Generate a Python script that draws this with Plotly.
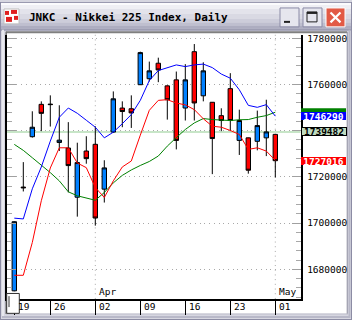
import plotly.graph_objects as go

# ---------------- data ----------------
DATES = ["2007-03-19", "2007-03-20", "2007-03-22", "2007-03-23", "2007-03-26",
         "2007-03-27", "2007-03-28", "2007-03-29", "2007-03-30", "2007-04-02",
         "2007-04-03", "2007-04-04", "2007-04-05", "2007-04-06", "2007-04-09",
         "2007-04-10", "2007-04-11", "2007-04-12", "2007-04-13", "2007-04-16",
         "2007-04-17", "2007-04-18", "2007-04-19", "2007-04-20", "2007-04-23",
         "2007-04-24", "2007-04-25", "2007-04-26", "2007-04-27", "2007-05-01"]

OPEN = [1670700, 1715600, 1737400, 1751400, 1751500, 1734900, 1732500, 1711200, 1731200, 1734100,
        1714700, 1739400, 1749800, 1749500, 1759900, 1762500, 1769200, 1759400, 1762000, 1749800,
        1774200, 1755100, 1752300, 1746500, 1758200, 1735800, 1736900, 1735400, 1736900, 1738400]
HIGH = [1700800, 1726400, 1748400, 1752700, 1755300, 1751000, 1743700, 1734800, 1737600, 1741900,
        1727200, 1757000, 1752700, 1755300, 1774200, 1769900, 1771600, 1759600, 1765600, 1768800,
        1777500, 1769600, 1752400, 1749700, 1764900, 1749100, 1737000, 1748700, 1753400, 1738500]
LOW = [1670500, 1713700, 1737000, 1739800, 1741800, 1731200, 1713300, 1702800, 1725700, 1698900,
       1708900, 1739100, 1741500, 1741200, 1759800, 1761300, 1761000, 1744800, 1731900, 1744400,
       1744400, 1752700, 1721200, 1739800, 1739800, 1729500, 1721400, 1731500, 1729000, 1719700]
CLOSE = [1700600, 1715300, 1741500, 1747500, 1751300, 1735900, 1724900, 1726200, 1727900, 1702200,
         1723900, 1753800, 1748300, 1747700, 1773800, 1765900, 1766300, 1753400, 1735800, 1762000,
         1752000, 1765900, 1736600, 1744400, 1744400, 1744400, 1722900, 1742200, 1739482, 1727016]

BLUE_LINE = [1702150, 1701810, 1714840, 1724300, 1735490, 1745810, 1749810, 1747530, 1744520, 1741510,
             1736900, 1739360, 1743010, 1746970, 1753120, 1761720, 1766020, 1767100, 1768470, 1767740,
             1768470, 1768820, 1767310, 1764520, 1762710, 1757720, 1750970, 1750110, 1751270, 1746290]
RED_LINE = [1677420, 1677420, 1691610, 1709680, 1723870, 1732600, 1732600, 1726020, 1724000, 1715400,
            1711100, 1718280, 1724300, 1726880, 1738070, 1748820, 1753120, 1753420, 1751960, 1751180,
            1749120, 1745160, 1741940, 1741510, 1740090, 1738370, 1731910, 1732600, 1731180, 1727180]
GREEN_LINE = [1734070, 1731480, 1728300, 1725160, 1721850, 1718280, 1713550, 1711830, 1710970, 1709890,
              1713250, 1717420, 1720650, 1723010, 1724950, 1726670, 1729030, 1733330, 1736990, 1740520,
              1743360, 1745250, 1744820, 1744600, 1744390, 1744730, 1744820, 1745810, 1746540, 1748000]

PREV_CLOSE = 1739482

WEEK_TICKS = ["2007-03-19", "2007-03-26", "2007-04-02", "2007-04-09", "2007-04-16", "2007-04-23", "2007-05-01"]
WEEK_LABELS = ["19", "26", "02", "09", "16", "23", "01"]
MONTH_TICKS = ["2007-04-02", "2007-05-01"]
MONTH_LABELS = ["Apr", "May"]

TITLE = "JNKC - Nikkei 225 Index, Daily"
Y_TICKS = [1680000, 1700000, 1720000, 1740000, 1760000, 1780000]
Y_TICK_TEXT = ["1680000", "1700000", "1720000", "", "1760000", "1780000"]  # 1740000 is covered by the value boxes

# ---------------- geometry (pixels of the 352x320 window) ----------------
W, H = 352, 320
PLOT_L, PLOT_R, PLOT_T, PLOT_B = 7, 300.5, 33, 298.8
PX_PER_DAY = 9.0
FIRST_X = 14.3
VAL_PER_PX = 430.1
Y_TOP = 1781505

def X(px):
    return px / W

def Y(py):
    return 1 - py / H

x_lo = (PLOT_L - FIRST_X) / PX_PER_DAY
x_hi = (PLOT_R - FIRST_X) / PX_PER_DAY
y_hi = Y_TOP
y_lo = Y_TOP - (PLOT_B - PLOT_T) * VAL_PER_PX

MONO = "DejaVu Sans Mono"

fig = go.Figure()

fig.add_trace(go.Scatter(x=DATES, y=GREEN_LINE, mode="lines",
                         line=dict(color="#008000", width=1), hoverinfo="skip"))
fig.add_trace(go.Scatter(x=DATES, y=RED_LINE, mode="lines",
                         line=dict(color="#ff0000", width=1), hoverinfo="skip"))
fig.add_trace(go.Scatter(x=DATES, y=BLUE_LINE, mode="lines",
                         line=dict(color="#0000ff", width=1), hoverinfo="skip"))

fig.add_trace(go.Candlestick(
    x=DATES, open=OPEN, high=HIGH, low=LOW, close=CLOSE,
    increasing=dict(fillcolor="#0080ff", line=dict(color="#000000", width=1)),
    decreasing=dict(fillcolor="#ff0000", line=dict(color="#000000", width=1)),
    whiskerwidth=0,
))

shapes = []

def rect(x0, y0, x1, y1, fill, line=None, lw=0, layer="below"):
    shapes.append(dict(type="rect", xref="paper", yref="paper",
                       x0=X(x0), x1=X(x1), y0=Y(y1), y1=Y(y0),
                       fillcolor=fill, line=dict(color=line or fill, width=lw),
                       layer=layer))

def hline(x0, x1, y, color, lw=1, layer="below"):
    shapes.append(dict(type="line", xref="paper", yref="paper",
                       x0=X(x0), x1=X(x1), y0=Y(y), y1=Y(y),
                       line=dict(color=color, width=lw), layer=layer))

def vline(x, y0, y1, color, lw=1, layer="below"):
    shapes.append(dict(type="line", xref="paper", yref="paper",
                       x0=X(x), x1=X(x), y0=Y(y0), y1=Y(y1),
                       line=dict(color=color, width=lw), layer=layer))

# window frame
rect(0, 0, W, H, "#d6d6e0")
# title bar gradient
stripes = [(0, 1, "#9a9ab0"), (1, 3, "#fbfbfd"), (3, 7, "#efeff4"), (7, 12, "#e3e3eb"),
           (12, 17, "#d9d9e3"), (17, 21, "#cdcdda"), (21, 24, "#bfbfcf"), (24, 27, "#adadc0"),
           (27, 29, "#9d9db2")]
for a, b, c in stripes:
    rect(0, a, W, b, c)
# white client area
rect(7, 30, 347, 313.5, "#ffffff")
hline(6, 347, 30.5, "#808080", 2)
vline(6.2, 30, 314, "#707070", 1.5)
vline(347.2, 30, 314, "#9090a0", 1)
hline(6, 348, 314, "#c0c0cc", 1)
vline(0.5, 0, H, "#8c8ca4", 1)
vline(351.5, 0, H, "#8c8ca4", 1)
hline(0, W, 319.5, "#8c8ca4", 1)
vline(3, 28, 318, "#e8e8ee", 2)
vline(349.5, 28, 318, "#b8b8c8", 2)
hline(2, 350, 317, "#b8b8c8", 2)

# title bar icon
rect(4, 7, 19, 22, "#ffffff", "#c0c0c0", 1)
rect(5, 9, 9, 13, "#e02020")
rect(11, 8, 17, 12, "#e02020")
rect(6, 15, 12, 20, "#e02020")
rect(14, 14, 18, 18, "#e02020")

# title buttons
rect(280, 6, 299, 25, "#e6e6ee", "#8a8aa6", 1)
rect(284, 19, 290, 21, "#202020")
rect(303, 6, 322, 25, "#e6e6ee", "#8a8aa6", 1)
rect(307, 10, 317, 20, "rgba(0,0,0,0)", "#202020", 1)
hline(307, 317, 11, "#202020", 2)
rect(326, 6, 345, 25, "#e25a45", "#ffffff", 1)
shapes.append(dict(type="line", xref="paper", yref="paper", x0=X(330.5), x1=X(340.5),
                   y0=Y(10.5), y1=Y(20.5), line=dict(color="#ffffff", width=2.2), layer="above"))
shapes.append(dict(type="line", xref="paper", yref="paper", x0=X(330.5), x1=X(340.5),
                   y0=Y(20.5), y1=Y(10.5), line=dict(color="#ffffff", width=2.2), layer="above"))

# month grid lines (dotted verticals)
for d in MONTH_TICKS:
    i = DATES.index(d)
    shapes.append(dict(type="line", xref="x", yref="paper", x0=i, x1=i,
                       y0=Y(PLOT_B), y1=Y(PLOT_T),
                       line=dict(color="#a8a8a8", width=1, dash="1px,3.7px"), layer="below"))

# previous close line
shapes.append(dict(type="line", xref="paper", yref="y", x0=X(PLOT_L), x1=X(PLOT_R),
                   y0=PREV_CLOSE, y1=PREV_CLOSE,
                   line=dict(color="#b4dcb4", width=1.5), layer="below"))

# green value box (mostly hidden behind the blue one)
half = 4 * VAL_PER_PX
shapes.append(dict(type="rect", xref="paper", yref="y", x0=X(301), x1=X(346),
                   y0=GREEN_LINE[-1] - half, y1=GREEN_LINE[-1] + half,
                   fillcolor="#008000", line=dict(color="#008000", width=0), layer="above"))

# scroll box bottom-left
rect(6.7, 293.3, 19.3, 313.3, "#ffffff", "#303030", 1, layer="above")
vline(9, 296, 307, "#303030", 1, layer="above")

annotations = []
annotations.append(dict(xref="paper", yref="paper", x=X(26.5), y=Y(15.5), xanchor="left",
                        yanchor="middle", text="<b>" + TITLE + "</b>", showarrow=False,
                        font=dict(family=MONO, size=11, color="#000000")))

for d, lab in zip(WEEK_TICKS, WEEK_LABELS):
    annotations.append(dict(xref="x", yref="paper", x=DATES.index(d), y=Y(306.5),
                            xanchor="left", yanchor="middle", xshift=1.5, text=lab,
                            showarrow=False, font=dict(family=MONO, size=9.5, color="#000000")))
for d, lab in zip(MONTH_TICKS, MONTH_LABELS):
    annotations.append(dict(xref="x", yref="paper", x=DATES.index(d), y=Y(298.5),
                            xanchor="left", yanchor="bottom", xshift=1.5, text=lab,
                            showarrow=False, font=dict(family=MONO, size=9.5, color="#000000")))

def value_label(val, bg, fg, border=None):
    annotations.append(dict(xref="paper", yref="y", x=X(301), y=val, xanchor="left",
                            yanchor="middle", text="<b>%d</b>" % round(val), showarrow=False,
                            width=44 if border else 45, height=7 if border else 8,
                            borderpad=0, bgcolor=bg,
                            bordercolor=border or bg, borderwidth=1 if border else 0,
                            font=dict(family=MONO, size=9.5, color=fg)))

value_label(BLUE_LINE[-1], "#0000ff", "#ffffff")
value_label(PREV_CLOSE, "#c0dcc0", "#000000", border="#000000")
value_label(CLOSE[-1], "#ff0000", "#ffffff")

fig.update_layout(
    width=W, height=H,
    margin=dict(l=0, r=0, t=0, b=0, pad=0),
    paper_bgcolor="#d6d6e0",
    plot_bgcolor="#ffffff",
    showlegend=False,
    shapes=shapes,
    annotations=annotations,
    xaxis=dict(
        domain=[X(PLOT_L), X(PLOT_R)],
        type="category",
        range=[x_lo, x_hi],
        rangeslider=dict(visible=False),
        showgrid=False, zeroline=False,
        showline=True, linecolor="#000000", linewidth=1.5,
        ticks="outside", tickvals=WEEK_TICKS, ticklen=14, tickcolor="#000000", tickwidth=1,
        showticklabels=False,
        fixedrange=True,
    ),
    yaxis=dict(
        domain=[Y(PLOT_B), Y(PLOT_T)],
        side="right",
        range=[y_lo, y_hi],
        tickvals=Y_TICKS,
        ticktext=Y_TICK_TEXT,
        ticks="inside", ticklen=9, tickcolor="#a0a0a0", tickwidth=1,
        minor=dict(dtick=4000, tick0=1680000, ticks="inside", ticklen=5,
                   tickcolor="#a8a8a8", tickwidth=1, showgrid=False),
        showline=True, linecolor="#000000", linewidth=1.5, mirror="ticks",
        showgrid=True, gridcolor="#a8a8a8", gridwidth=1, griddash="1px,3.7px",
        zeroline=False,
        tickfont=dict(family=MONO, size=9.5, color="#000000"),
        ticklabelstandoff=3,
        fixedrange=True,
    ),
)

fig.write_html("out.html", config=dict(displayModeBar=False))
